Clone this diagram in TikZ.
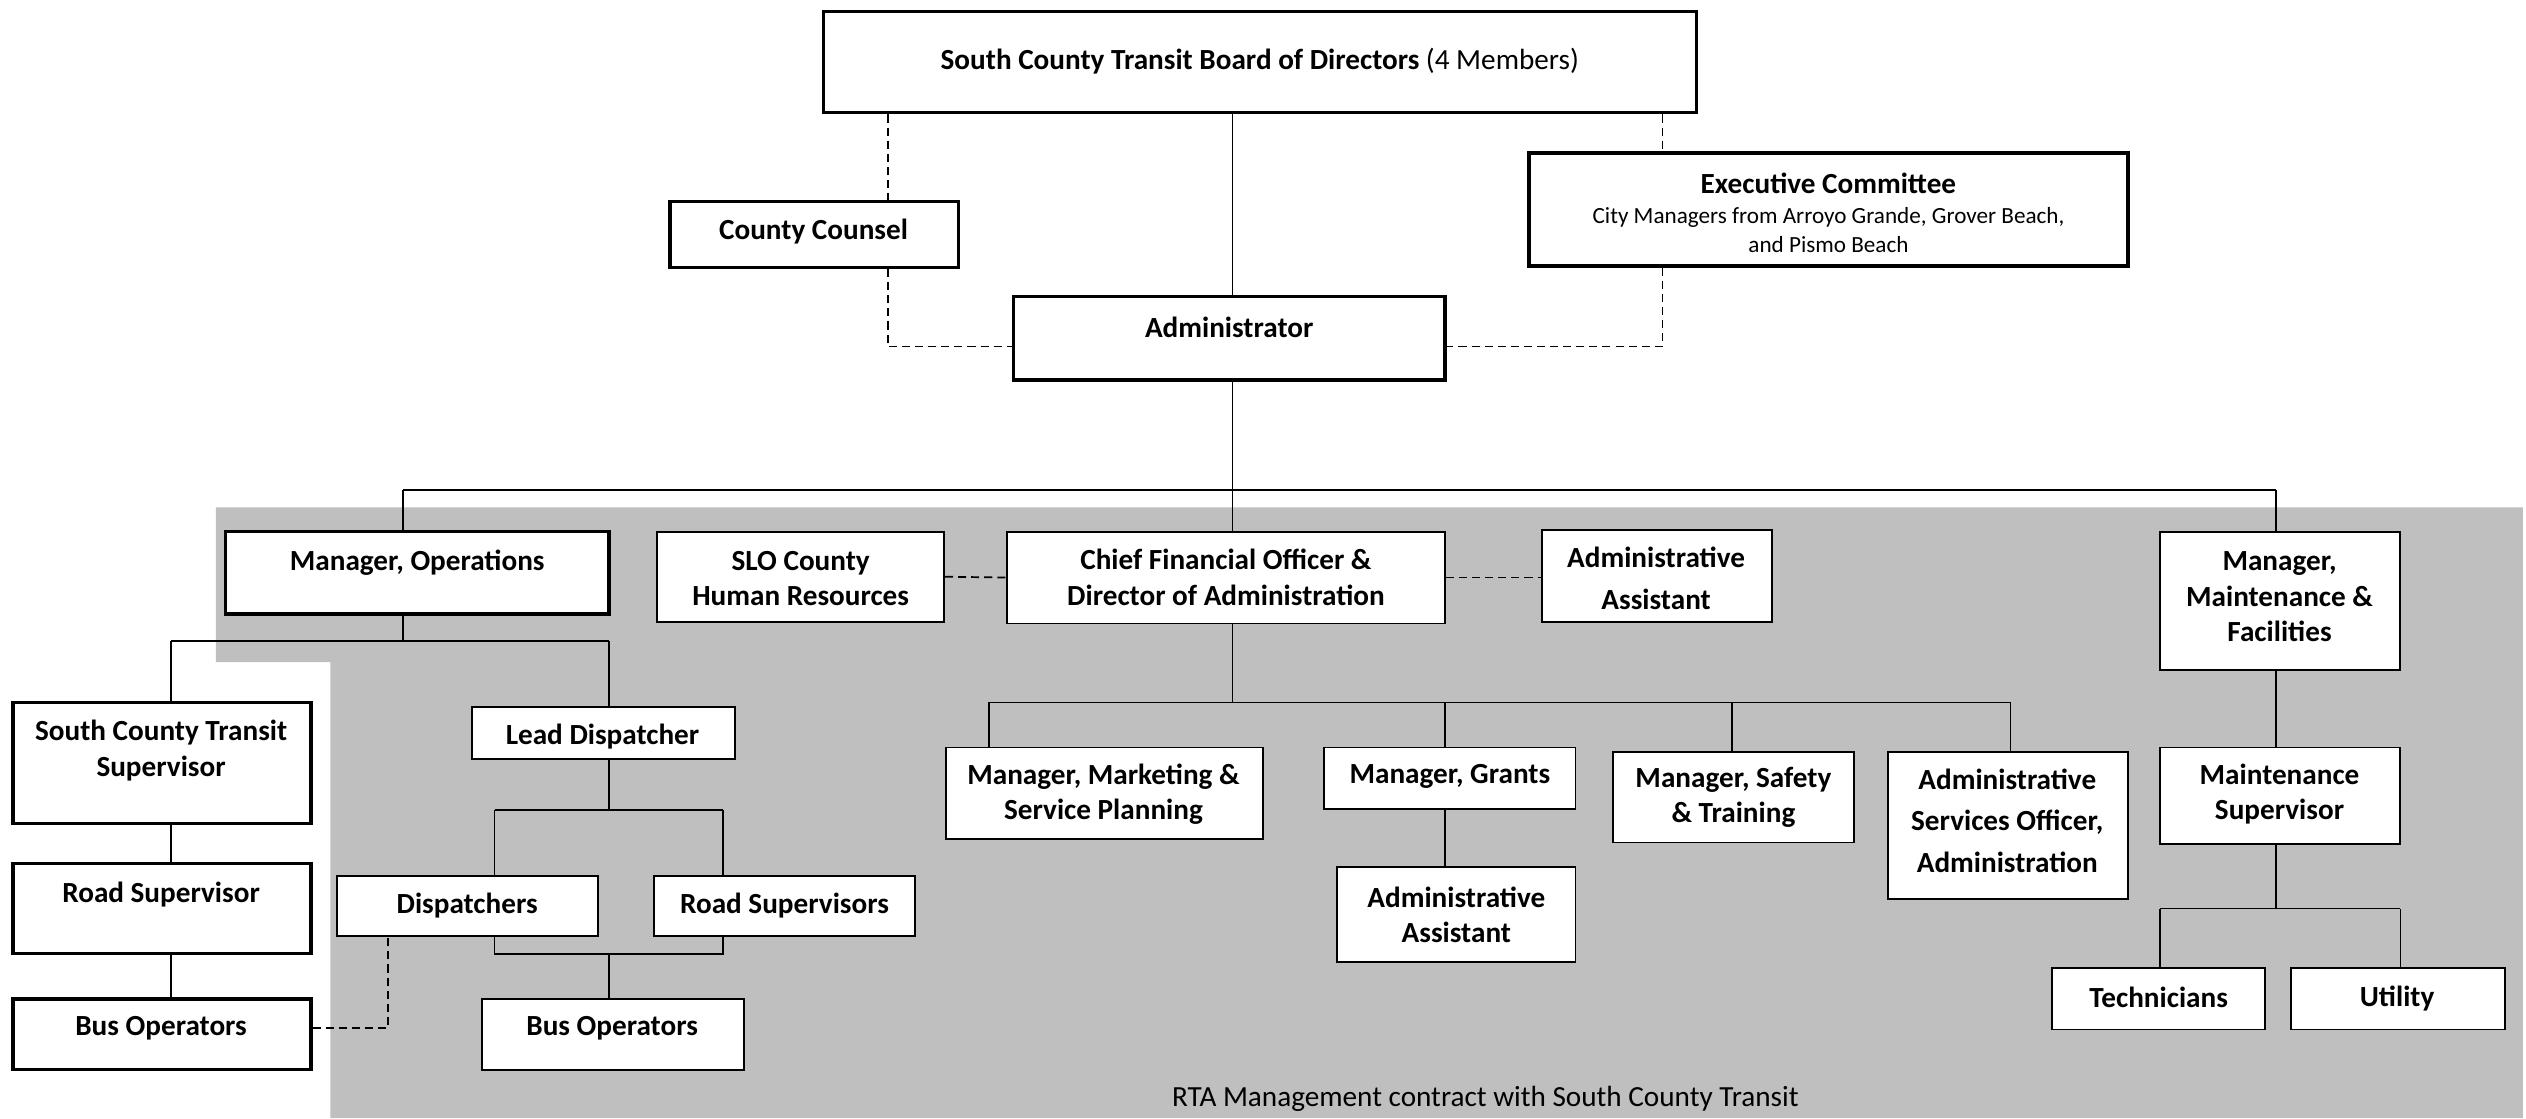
\documentclass[tikz,border=0pt]{standalone}
\usepackage{fontspec}
\setmainfont{Carlito}
\newcommand\mybox[6]{%
 \pgfmathsetmacro\bcx{(#3+#5)/2}%
 \pgfmathsetmacro\bcy{(#4+#6)/2}%
 \pgfmathsetmacro\bw{(#5-#3)*0.8}%
 \pgfmathsetmacro\bh{(#6-#4)*0.8}%
 \node[#2, minimum width=\bw pt, minimum height=\bh pt] (#1) at (\bcx,\bcy) {};}
\tikzset{
 box/.style={draw, fill=white, line width=0.9pt, inner sep=0pt},
 tbox/.style={box, line width=1.7pt},
 txt/.style={font=\bfseries\fontsize{14.5}{17.6}\selectfont, align=center, inner sep=0pt},
 wtxt/.style={txt, font=\bfseries\fontsize{14.5}{20.5}\selectfont},
 small/.style={font=\fontsize{11.5}{14.4}\selectfont, align=center, inner sep=0pt},
 link/.style={line width=0.85pt},
 dlink/.style={line width=0.85pt, dash pattern=on 4pt off 2.5pt},
}
\begin{document}
\begin{tikzpicture}[x=0.8pt,y=-0.8pt]
\useasboundingbox (0,0) rectangle (1568,694);
% gray contract region
\fill[black!25] (134,315) -- (1566,315) -- (1566,694) -- (205,694) -- (205,411) -- (134,411) -- cycle;
\node[font=\fontsize{14.5}{17.6}\selectfont, inner sep=0pt] (caption) at (922,682) {RTA Management contract with South County Transit};

% x coordinates for connectors
\coordinate (xcc) at (551,0);
\coordinate (xec) at (1032,0);
\coordinate (xmid) at (765,0);
\coordinate (xops) at (250,0);
\coordinate (xmmf) at (1413,0);
\coordinate (xsct) at (106,0);
\coordinate (xlead) at (378,0);
\coordinate (xdisp) at (307,0);
\coordinate (xrs) at (449,0);
\coordinate (xdash) at (241,0);
\coordinate (xmkt) at (614,0);
\coordinate (xgr) at (897,0);
\coordinate (xsaf) at (1075,0);
\coordinate (xaso) at (1248,0);
\coordinate (xtech) at (1341,0);
\coordinate (xutil) at (1490,0);
\coordinate (ydash) at (0,215);
\coordinate (ybus) at (0,304);
\coordinate (yops) at (0,398);
\coordinate (ylead) at (0,503);
\coordinate (ydr) at (0,592);
\coordinate (ycfo) at (0,436);
\coordinate (yms) at (0,564);
\coordinate (ybo) at (0,638);

% boxes
\mybox{board}{tbox}{511}{7}{1053}{70}
\mybox{cc}{tbox}{416}{125}{595}{166}
\mybox{exec}{tbox}{949}{95}{1321}{165}
\mybox{admin}{tbox}{629}{184}{897}{236}
\mybox{mops}{tbox}{140}{330}{378}{381}
\mybox{slo}{box}{408}{330}{586}{386}
\mybox{cfo}{box}{625}{330}{897}{387}
\mybox{aa1}{box}{957}{329}{1100}{386}
\mybox{mmf}{box}{1341}{330}{1490}{416}
\mybox{sct}{tbox}{8}{436}{193}{511}
\mybox{rsup}{tbox}{8}{536}{193}{592}
\mybox{bol}{tbox}{8}{620}{193}{664}
\mybox{lead}{box}{293}{439}{456}{471}
\mybox{disp}{box}{209}{544}{371}{581}
\mybox{rsups}{box}{406}{544}{568}{581}
\mybox{bom}{box}{299}{620}{462}{664}
\mybox{mkt}{box}{587}{464}{784}{521}
\mybox{grants}{box}{822}{464}{978}{502}
\mybox{aa2}{box}{830}{538}{978}{597}
\mybox{safety}{box}{1001}{467}{1151}{523}
\mybox{aso}{box}{1172}{467}{1321}{558}
\mybox{ms}{box}{1341}{464}{1490}{524}
\mybox{tech}{box}{1274}{601}{1406}{639}
\mybox{util}{box}{1422}{601}{1555}{639}

% connectors
\draw[link] (board.south -| xmid) -- (admin.north -| xmid);
\draw[dlink] (board.south -| xcc) -- (cc.north -| xcc);
\draw[dlink] (cc.south -| xcc) -- (xcc |- ydash) -- (ydash -| admin.west);
\draw[dlink] (board.south -| xec) -- (exec.north -| xec);
\draw[dlink] (exec.south -| xec) -- (xec |- ydash) -- (ydash -| admin.east);
\draw[link] (admin.south -| xmid) -- (xmid |- ybus);
\draw[link] (xops |- ybus) -- (xmmf |- ybus);
\draw[link] (xops |- ybus) -- (mops.north -| xops);
\draw[link] (xmid |- ybus) -- (cfo.north -| xmid);
\draw[link] (xmmf |- ybus) -- (mmf.north -| xmmf);
\draw[link] (mops.south -| xops) -- (xops |- yops);
\draw[link] (xsct |- yops) -- (xlead |- yops);
\draw[link] (xsct |- yops) -- (sct.north -| xsct);
\draw[link] (xlead |- yops) -- (lead.north -| xlead);
\draw[link] (sct.south -| xsct) -- (rsup.north -| xsct);
\draw[link] (rsup.south -| xsct) -- (bol.north -| xsct);
\draw[link] (lead.south -| xlead) -- (xlead |- ylead);
\draw[link] (xdisp |- ylead) -- (xrs |- ylead);
\draw[link] (xdisp |- ylead) -- (disp.north -| xdisp);
\draw[link] (xrs |- ylead) -- (rsups.north -| xrs);
\draw[link] (disp.south -| xdisp) -- (xdisp |- ydr) -- (xrs |- ydr) -- (rsups.south -| xrs);
\draw[link] (xlead |- ydr) -- (bom.north -| xlead);
\draw[dlink] (bol.east |- ybo) -- (xdash |- ybo) -- (disp.south -| xdash);
\draw[dlink] (slo.east) -- (cfo.west);
\draw[dlink] (cfo.east) -- (aa1.west |- cfo.east);
\draw[link] (cfo.south -| xmid) -- (xmid |- ycfo);
\draw[link] (xmkt |- ycfo) -- (xaso |- ycfo);
\draw[link] (xmkt |- ycfo) -- (mkt.north -| xmkt);
\draw[link] (xgr |- ycfo) -- (grants.north -| xgr);
\draw[link] (xsaf |- ycfo) -- (safety.north -| xsaf);
\draw[link] (xaso |- ycfo) -- (aso.north -| xaso);
\draw[link] (grants.south -| xgr) -- (aa2.north -| xgr);
\draw[link] (mmf.south -| xmmf) -- (ms.north -| xmmf);
\draw[link] (ms.south -| xmmf) -- (xmmf |- yms);
\draw[link] (xtech |- yms) -- (xutil |- yms);
\draw[link] (xtech |- yms) -- (tech.north -| xtech);
\draw[link] (xutil |- yms) -- (util.north -| xutil);

% texts
\node[txt] (board-t) at (782,38) {South County Transit Board of Directors \mdseries(4 Members)};
\node[txt] (cc-t) at (505,144) {County Counsel};
\node[txt] (exec-t) at (1135,114) {Executive Committee};
\node[small] (exec-s) at (1135,143) {City Managers from Arroyo Grande, Grover Beach,\\and Pismo Beach};
\node[txt] (admin-t) at (763,203) {Administrator};
\node[txt] (mops-t) at (259,349) {Manager, Operations};
\node[txt] (slo-t) at (497,359) {SLO County\\Human Resources};
\node[txt] (cfo-t) at (761,358.5) {Chief Financial Officer \&\\Director of Administration};
\node[wtxt] (aa1-t) at (1028,359) {Administrative\\Assistant};
\node[txt] (mmf-t) at (1415,370.5) {Manager,\\Maintenance \&\\Facilities};
\node[txt] (sct-t) at (100,466) {South County Transit\\Supervisor};
\node[txt] (rsup-t) at (100,555) {Road Supervisor};
\node[txt] (bol-t) at (100,638) {Bus Operators};
\node[txt] (lead-t) at (374,457) {Lead Dispatcher};
\node[txt] (disp-t) at (290,562) {Dispatchers};
\node[txt] (rsups-t) at (487,562) {Road Supervisors};
\node[txt] (bom-t) at (380,638) {Bus Operators};
\node[txt] (mkt-t) at (685,493) {Manager, Marketing \&\\Service Planning};
\node[txt] (grants-t) at (900,482) {Manager, Grants};
\node[txt] (aa2-t) at (904,568) {Administrative\\Assistant};
\node[txt] (safety-t) at (1076,495) {Manager, Safety\\\& Training};
\node[wtxt] (aso-t) at (1246,509.5) {Administrative\\Services Officer,\\Administration};
\node[txt] (ms-t) at (1415,493) {Maintenance\\Supervisor};
\node[txt] (tech-t) at (1340,619) {Technicians};
\node[txt] (util-t) at (1488,620) {Utility};
\end{tikzpicture}
\end{document}
